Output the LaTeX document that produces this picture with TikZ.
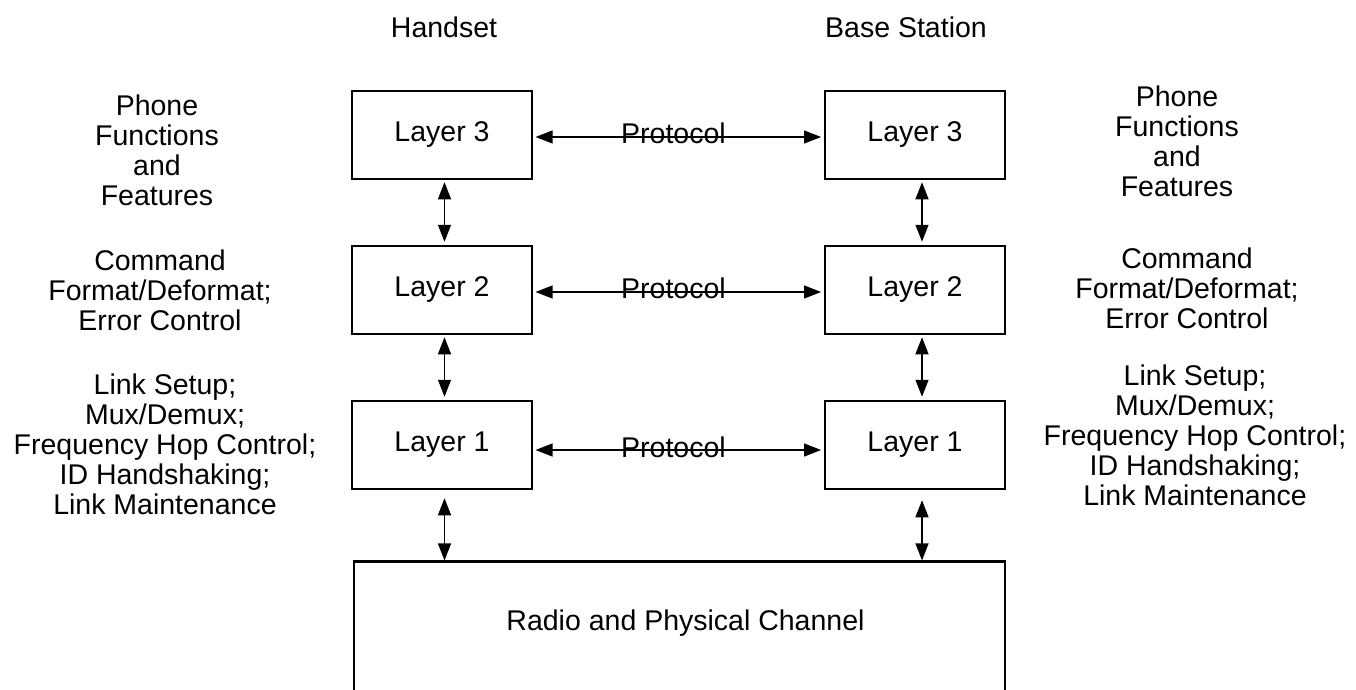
\documentclass[tikz,border=0pt]{standalone}
\usepackage{fontspec}
\setmainfont{Liberation Sans}
\usetikzlibrary{arrows.meta}
\tikzset{
  layerbox/.style={draw, line width=2.5pt, minimum width=180pt, minimum height=88pt, inner sep=0pt, font=\fontsize{28.5}{30}\selectfont},
  txt/.style={inner sep=0pt, align=center, font=\fontsize{28.5}{30}\selectfont},
  dbl/.style={line width=1.2pt, {Triangle[length=17pt,width=13pt]}-{Triangle[length=17pt,width=13pt]}},
}
\begin{document}
\begin{tikzpicture}[x=1pt,y=-1pt]
\useasboundingbox (0,0) rectangle (1356,690);
\clip (0,0) rectangle (1356,690);
% titles
\node[txt, anchor=north] (thand) at (444,16.5) {Handset};
\node[txt, anchor=north] (tbase) at (906,16.5) {Base Station};
% layer boxes
\node[layerbox] (h3) at (442,135) {Layer 3};
\node[layerbox] (h2) at (442,290) {Layer 2};
\node[layerbox] (h1) at (442,445) {Layer 1};
\node[layerbox] (b3) at (915,135) {Layer 3};
\node[layerbox] (b2) at (915,290) {Layer 2};
\node[layerbox] (b1) at (915,445) {Layer 1};
% radio box
\node[draw, line width=2.5pt, minimum width=651pt, minimum height=158pt, inner sep=0pt] (radio) at (679.5,640.7) {};
\node[txt, anchor=base] (radiotxt) at (685.5,630) {Radio and Physical Channel};
% side texts
\node[txt, anchor=north] (lf3) at (157,94.5) {Phone\\Functions\\and\\Features};
\node[txt, anchor=north] (rf3) at (1177,85.5) {Phone\\Functions\\and\\Features};
\node[txt, anchor=north] (lf2) at (160,249.5) {Command\\Format/Deformat;\\Error Control};
\node[txt, anchor=north] (rf2) at (1187,247.5) {Command\\Format/Deformat;\\Error Control};
\node[txt, anchor=north] (lf1) at (165,373.5) {Link Setup;\\Mux/Demux;\\Frequency Hop Control;\\ID Handshaking;\\Link Maintenance};
\node[txt, anchor=north] (rf1) at (1195,364.5) {Link Setup;\\Mux/Demux;\\Frequency Hop Control;\\ID Handshaking;\\Link Maintenance};
% protocol arrows
\draw[dbl] ([xshift=2.3pt,yshift=-2pt]h3.east) -- ([xshift=-2.7pt,yshift=-2pt]b3.west)
  node[txt, pos=0.483, anchor=base, yshift=-6pt] (p3) {Protocol};
\draw[dbl] ([xshift=2.3pt,yshift=-2pt]h2.east) -- ([xshift=-2.7pt,yshift=-2pt]b2.west)
  node[txt, pos=0.483, anchor=base, yshift=-6pt] (p2) {Protocol};
\draw[dbl] ([xshift=2.3pt,yshift=-5pt]h1.east) -- ([xshift=-2.7pt,yshift=-5pt]b1.west)
  node[txt, pos=0.483, anchor=base, yshift=-7pt] (p1) {Protocol};
% vertical arrows, handset
\draw[dbl] ([xshift=2.5pt,yshift=-2pt]h3.south) -- ([xshift=2.5pt,yshift=3pt]h2.north);
\draw[dbl] ([xshift=2.5pt,yshift=-2pt]h2.south) -- ([xshift=2.5pt,yshift=3pt]h1.north);
\draw[dbl] ([xshift=2.5pt,yshift=-8pt]h1.south) -- ([xshift=2.5pt]h1.south |- radio.north);
% vertical arrows, base station
\draw[dbl] ([xshift=7pt,yshift=-2pt]b3.south) -- ([xshift=7pt,yshift=3pt]b2.north);
\draw[dbl] ([xshift=7pt,yshift=-2pt]b2.south) -- ([xshift=7pt,yshift=3pt]b1.north);
\draw[dbl] ([xshift=7pt,yshift=-10pt]b1.south) -- ([xshift=7pt]b1.south |- radio.north);
\end{tikzpicture}
\end{document}
